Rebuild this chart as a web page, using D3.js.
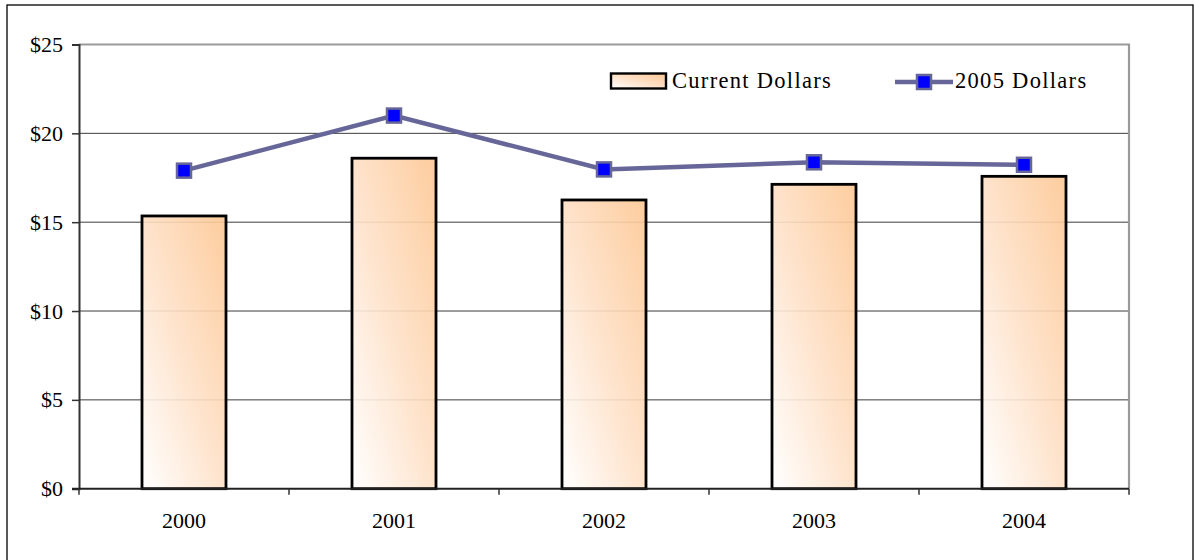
<!DOCTYPE html>
<html>
<head>
<meta charset="utf-8">
<script src="https://cdn.jsdelivr.net/npm/d3@7"></script>
<style>
  body { margin: 0; background: #fff; }
  svg text { font-family: "Liberation Serif", "Times New Roman", serif; fill: #000; }
</style>
</head>
<body>
<div id="chart"></div>
<script>
// values
const years = ["2000", "2001", "2002", "2003", "2004"];
const currentDollars = [15.35, 18.6, 16.25, 17.13, 17.58];
const dollars2005 = [17.9, 21.0, 17.97, 18.37, 18.23];
const yTicks = [0, 5, 10, 15, 20, 25];
const seriesNames = ["Current Dollars", "2005 Dollars"];

const width = 1194, height = 560;
const margin = {top: 44.5, right: 65, bottom: 71.3, left: 79};

const svg = d3.select("#chart")
  .append("svg")
  .attr("width", width)
  .attr("height", height);

// bar gradient, white at bottom-left to peach at top-right
const defs = svg.append("defs");
const grad = defs.append("linearGradient")
  .attr("id", "barFill")
  .attr("x1", 0).attr("y1", 1)
  .attr("x2", 1).attr("y2", 0);
grad.append("stop").attr("offset", "0%").attr("stop-color", "#ffffff");
grad.append("stop").attr("offset", "50%").attr("stop-color", "#fee0c6");
grad.append("stop").attr("offset", "100%").attr("stop-color", "#fdc793");

// outer frame
svg.append("rect")
  .attr("x", 7).attr("y", 5)
  .attr("width", 1186).attr("height", 600)
  .attr("fill", "none")
  .attr("stroke", "#000")
  .attr("stroke-width", 1.3);

const x = d3.scaleBand()
  .domain(years)
  .range([margin.left, width - margin.right])
  .padding(0);

const y = d3.scaleLinear()
  .domain([0, 25])
  .range([height - margin.bottom, margin.top]);

const barW = x.bandwidth() * 0.4;

// grid lines
svg.append("g")
  .selectAll("line")
  .data(yTicks.filter(d => d > 0 && d < 25))
  .enter()
  .append("line")
    .attr("x1", margin.left)
    .attr("x2", width - margin.right)
    .attr("y1", d => y(d))
    .attr("y2", d => y(d))
    .attr("stroke", "#3c3c3c")
    .attr("stroke-width", 1);

// plot area border (top and right)
svg.append("path")
  .attr("d", `M${margin.left},${y(25)}H${width - margin.right}V${y(0)}`)
  .attr("fill", "none")
  .attr("stroke", "#9a9a9a")
  .attr("stroke-width", 2.2);

// bars
svg.append("g")
  .selectAll("rect")
  .data(currentDollars)
  .enter()
  .append("rect")
    .attr("x", (d, i) => x(years[i]) + (x.bandwidth() - barW) / 2)
    .attr("y", d => y(d))
    .attr("width", barW)
    .attr("height", d => y(0) - y(d))
    .attr("fill", "url(#barFill)")
    .attr("fill-opacity", 0.9)
    .attr("stroke", "#000")
    .attr("stroke-width", 2.8);

// y axis
const yAxis = svg.append("g")
  .attr("transform", `translate(${margin.left},0)`)
  .call(d3.axisLeft(y).tickValues(yTicks).tickFormat(d => "$" + d).tickSize(7).tickPadding(9));
yAxis.select(".domain").attr("stroke", "#333").attr("stroke-width", 2);
yAxis.selectAll(".tick line").attr("stroke", "#333").attr("stroke-width", 1.5);
yAxis.selectAll("text").style("font-size", "22px").attr("fill", "#000");

// x axis, ticks sit between categories
const xAxis = svg.append("g")
  .attr("transform", `translate(0,${y(0)})`);
xAxis.append("line")
  .attr("x1", margin.left - 7)
  .attr("x2", width - margin.right)
  .attr("stroke", "#222")
  .attr("stroke-width", 2);
const edges = years.map(d => x(d)).concat([x(years[years.length - 1]) + x.bandwidth()]);
xAxis.selectAll(".edge")
  .data(edges)
  .enter()
  .append("line")
    .attr("class", "edge")
    .attr("x1", d => d).attr("x2", d => d)
    .attr("y1", 0).attr("y2", 6)
    .attr("stroke", "#333")
    .attr("stroke-width", 1.5);
xAxis.selectAll("text")
  .data(years)
  .enter()
  .append("text")
    .attr("x", d => x(d) + x.bandwidth() / 2)
    .attr("y", 39.5)
    .attr("text-anchor", "middle")
    .style("font-size", "22px")
    .text(d => d);

// 2005 dollars line
const line = d3.line()
  .x((d, i) => x(years[i]) + x.bandwidth() / 2)
  .y(d => y(d));

svg.append("path")
  .datum(dollars2005)
  .attr("d", line)
  .attr("fill", "none")
  .attr("stroke", "#666699")
  .attr("stroke-width", 4.5);

svg.append("g")
  .selectAll("rect")
  .data(dollars2005)
  .enter()
  .append("rect")
    .attr("x", (d, i) => x(years[i]) + x.bandwidth() / 2 - 7)
    .attr("y", d => y(d) - 7)
    .attr("width", 14)
    .attr("height", 14)
    .attr("fill", "#0000ff")
    .attr("stroke", "#666699")
    .attr("stroke-width", 2.5);

// legend
const legend = svg.append("g");
legend.append("rect")
  .attr("x", 611).attr("y", 73.5)
  .attr("width", 55).attr("height", 15)
  .attr("fill", "url(#barFill)")
  .attr("stroke", "#000")
  .attr("stroke-width", 2.4);
legend.append("text")
  .attr("x", 672).attr("y", 88)
  .style("font-size", "22.5px")
  .style("letter-spacing", "1.3px")
  .text(seriesNames[0]);

legend.append("line")
  .attr("x1", 895).attr("x2", 953)
  .attr("y1", 82).attr("y2", 82)
  .attr("stroke", "#666699")
  .attr("stroke-width", 4.5);
legend.append("rect")
  .attr("x", 917).attr("y", 75)
  .attr("width", 14).attr("height", 14)
  .attr("fill", "#0000ff")
  .attr("stroke", "#666699")
  .attr("stroke-width", 2.5);
legend.append("text")
  .attr("x", 955).attr("y", 88)
  .style("font-size", "22.5px")
  .style("letter-spacing", "1.3px")
  .text(seriesNames[1]);
</script>
</body>
</html>
